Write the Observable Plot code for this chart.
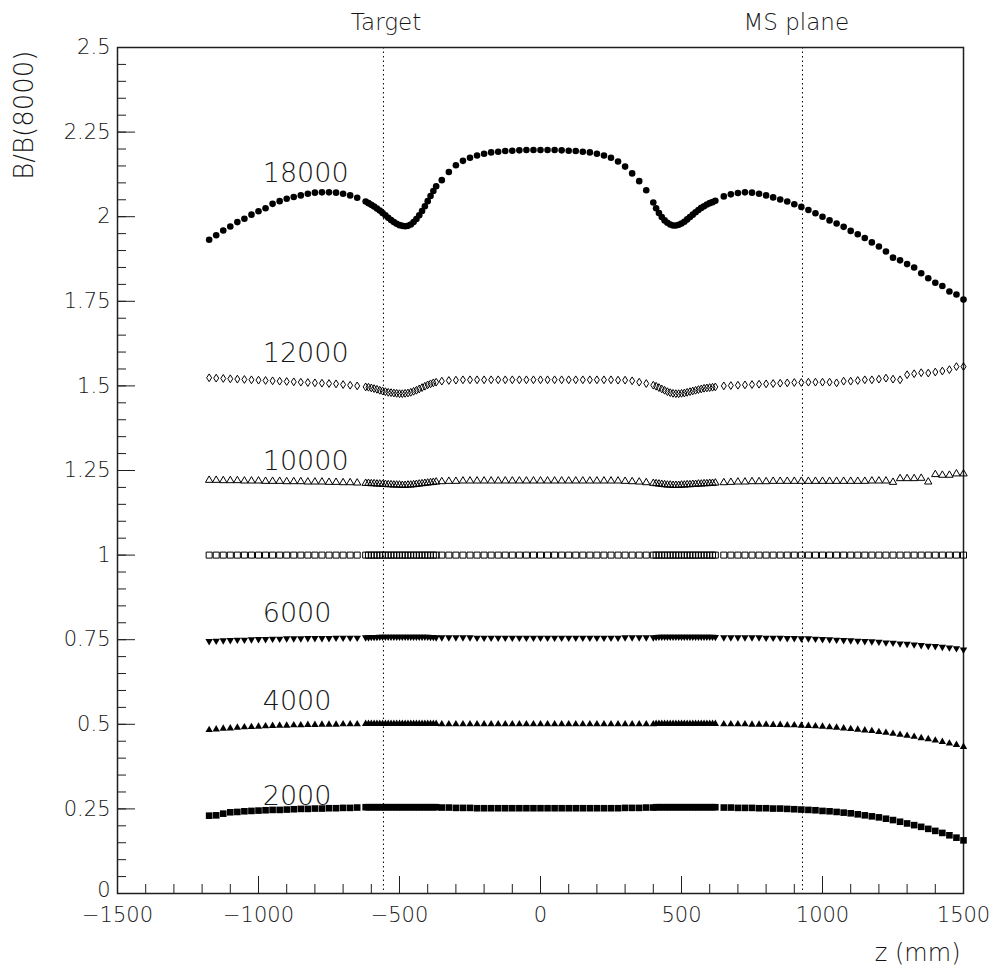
<!DOCTYPE html>
<html><head><meta charset="utf-8">
<script src="https://cdn.jsdelivr.net/npm/d3@7"></script>
<script src="https://cdn.jsdelivr.net/npm/@observablehq/plot@0.6"></script>
<style>
html,body{margin:0;padding:0;background:#fff;}
#chart svg{display:block;}
g[aria-label="tick-labels"] text{letter-spacing:1.5px;}
</style></head><body><div id="chart"></div><script>
// z positions (mm)
const z = [
 -1175,-1150,-1125,-1100,-1075, -1050,-1025,-1000,-975,-950, -925,-900,-875,-850,-825, -800,-775,-750,-725,-700, -675,-650,
 -620,-610,-600,-590,-580, -570,-560,-550,-540,-530, -520,-510,-500,-490,-480, -470,-460,-450,-440,-430, -420,-410,-400,-390,-380, -370,
 -350,-325,-300,-275,-250, -225,-200,-175,-150,-125, -100,-75,-50,-25,0, 25,50,75,100,125, 150,175,200,225,250, 275,300,325,350,375, 400,
 410,420,430,440,450, 460,470,480,490,500, 510,520,530,540,550, 560,570,580,590,600, 610,620,
 650,675,700,725,750, 775,800,825,850,875, 900,925,950,975,1000, 1025,1050,1075,1100,1125, 1150,1175,1200,1225,1250, 1275,1300,1325,1350,1375, 1400,1425,1450,1475,1500
];
const b18000 = [
 1.932,1.945,1.959,1.971,1.984, 1.994,2.006,2.016,2.025,2.038, 2.046,2.053,2.058,2.063,2.068, 2.071,2.072,2.072,2.071,2.068, 2.063,2.056,
 2.045,2.040,2.035,2.030,2.024, 2.018,2.011,2.004,1.997,1.990, 1.984,1.979,1.975,1.973,1.972, 1.973,1.977,1.984,1.993,2.004, 2.017,2.031,2.046,2.061,2.076, 2.090,
 2.108,2.132,2.152,2.165,2.174, 2.181,2.186,2.190,2.192,2.194, 2.195,2.196,2.197,2.197,2.197, 2.197,2.197,2.196,2.195,2.194, 2.192,2.190,2.186,2.181,2.174, 2.163,2.148,2.128,2.105,2.078, 2.042,
 2.025,2.011,1.999,1.989,1.982, 1.977,1.974,1.974,1.976,1.980, 1.985,1.992,1.999,2.006,2.013, 2.020,2.026,2.031,2.036,2.040, 2.043,2.047,
 2.060,2.066,2.070,2.072,2.071, 2.068,2.063,2.057,2.051,2.045, 2.037,2.029,2.020,2.010,2.000, 1.989,1.980,1.970,1.958,1.948, 1.937,1.924,1.912,1.897,1.879, 1.871,1.860,1.850,1.833,1.818, 1.805,1.795,1.779,1.770,1.755
];
const b12000 = [
 1.524,1.523,1.522,1.521,1.520, 1.519,1.518,1.517,1.516,1.515, 1.514,1.513,1.512,1.511,1.510, 1.509,1.508,1.507,1.506,1.504, 1.502,1.500,
 1.497,1.496,1.494,1.492,1.490, 1.487,1.485,1.483,1.481,1.480, 1.479,1.478,1.477,1.477,1.478, 1.479,1.481,1.484,1.487,1.491, 1.495,1.499,1.503,1.506,1.509, 1.511,
 1.514,1.516,1.517,1.518,1.518, 1.518,1.518,1.518,1.518,1.518, 1.518,1.518,1.518,1.518,1.518, 1.518,1.518,1.518,1.518,1.518, 1.518,1.518,1.518,1.518,1.518, 1.517,1.517,1.515,1.511,1.507, 1.502,
 1.499,1.495,1.491,1.487,1.483, 1.480,1.478,1.477,1.477,1.478, 1.479,1.481,1.483,1.485,1.487, 1.489,1.491,1.493,1.494,1.495, 1.496,1.497,
 1.500,1.501,1.502,1.503,1.504, 1.505,1.506,1.507,1.508,1.509, 1.510,1.510,1.511,1.511,1.511, 1.511,1.509,1.514,1.514,1.516, 1.518,1.518,1.520,1.523,1.520, 1.518,1.533,1.536,1.539,1.538, 1.541,1.544,1.548,1.557,1.557
];
const b10000 = [
 1.223,1.223,1.222,1.222,1.222, 1.221,1.221,1.221,1.220,1.220, 1.220,1.219,1.219,1.219,1.218, 1.218,1.218,1.217,1.217,1.216, 1.216,1.215,
 1.214,1.214,1.213,1.213,1.212, 1.212,1.211,1.211,1.210,1.210, 1.209,1.209,1.209,1.208,1.208, 1.209,1.209,1.210,1.211,1.212, 1.213,1.214,1.215,1.216,1.217, 1.218,
 1.219,1.220,1.220,1.221,1.221, 1.221,1.221,1.221,1.221,1.221, 1.221,1.221,1.221,1.221,1.221, 1.221,1.221,1.221,1.221,1.221, 1.221,1.221,1.221,1.221,1.221, 1.221,1.220,1.219,1.218,1.216, 1.214,
 1.213,1.212,1.211,1.210,1.209, 1.209,1.208,1.208,1.208,1.209, 1.209,1.210,1.210,1.211,1.211, 1.212,1.212,1.213,1.213,1.214, 1.214,1.215,
 1.216,1.217,1.218,1.218,1.219, 1.219,1.219,1.220,1.220,1.220, 1.220,1.220,1.220,1.220,1.220, 1.220,1.220,1.220,1.220,1.220, 1.220,1.221,1.221,1.221,1.217, 1.228,1.228,1.228,1.229,1.218, 1.240,1.238,1.238,1.242,1.242
];
const b8000 = [
 1,1,1,1,1, 1,1,1,1,1, 1,1,1,1,1, 1,1,1,1,1, 1,1,
 1,1,1,1,1, 1,1,1,1,1, 1,1,1,1,1, 1,1,1,1,1, 1,1,1,1,1, 1,
 1,1,1,1,1, 1,1,1,1,1, 1,1,1,1,1, 1,1,1,1,1, 1,1,1,1,1, 1,1,1,1,1, 1,
 1,1,1,1,1, 1,1,1,1,1, 1,1,1,1,1, 1,1,1,1,1, 1,1,
 1,1,1,1,1, 1,1,1,1,1, 1,1,1,1,1, 1,1,1,1,1, 1,1,1,1,1, 1,1,1,1,1, 1,1,1,1,1
];
const b6000 = [
 0.744,0.745,0.746,0.747,0.748, 0.748,0.749,0.750,0.750,0.751, 0.751,0.752,0.752,0.752,0.753, 0.753,0.753,0.753,0.754,0.754, 0.754,0.754,
 0.755,0.755,0.756,0.756,0.756, 0.757,0.757,0.757,0.757,0.757, 0.757,0.757,0.757,0.757,0.757, 0.757,0.757,0.757,0.757,0.757, 0.757,0.757,0.757,0.756,0.756, 0.755,
 0.755,0.755,0.755,0.755,0.755, 0.754,0.754,0.754,0.754,0.754, 0.754,0.754,0.754,0.754,0.754, 0.754,0.754,0.754,0.754,0.754, 0.754,0.754,0.754,0.754,0.754, 0.754,0.755,0.755,0.755,0.755, 0.755,
 0.756,0.757,0.757,0.757,0.757, 0.757,0.757,0.757,0.757,0.757, 0.757,0.757,0.757,0.757,0.757, 0.757,0.757,0.757,0.757,0.757, 0.757,0.756,
 0.755,0.755,0.755,0.755,0.755, 0.755,0.754,0.754,0.754,0.753, 0.753,0.752,0.752,0.751,0.750, 0.749,0.748,0.747,0.746,0.745, 0.744,0.743,0.742,0.740,0.739, 0.737,0.736,0.734,0.732,0.730, 0.729,0.727,0.725,0.723,0.719
];
const b4000 = [
 0.485,0.487,0.489,0.490,0.492, 0.493,0.494,0.495,0.496,0.497, 0.498,0.498,0.499,0.499,0.500, 0.500,0.501,0.501,0.501,0.502, 0.502,0.502,
 0.503,0.503,0.503,0.503,0.503, 0.503,0.503,0.503,0.503,0.503, 0.503,0.503,0.503,0.503,0.503, 0.503,0.503,0.503,0.503,0.503, 0.503,0.503,0.503,0.503,0.503, 0.503,
 0.502,0.502,0.502,0.502,0.502, 0.502,0.502,0.502,0.502,0.502, 0.502,0.502,0.502,0.502,0.502, 0.502,0.502,0.502,0.502,0.502, 0.502,0.502,0.502,0.502,0.502, 0.502,0.502,0.502,0.502,0.502, 0.502,
 0.503,0.503,0.503,0.503,0.503, 0.503,0.503,0.503,0.503,0.503, 0.503,0.503,0.503,0.503,0.503, 0.503,0.503,0.503,0.503,0.503, 0.503,0.503,
 0.502,0.502,0.502,0.502,0.501, 0.501,0.501,0.500,0.500,0.499, 0.499,0.498,0.497,0.496,0.495, 0.493,0.492,0.490,0.488,0.486, 0.484,0.482,0.479,0.477,0.474, 0.471,0.468,0.465,0.461,0.458, 0.454,0.450,0.445,0.441,0.435
];
const b2000 = [
 0.230,0.231,0.236,0.240,0.241, 0.243,0.244,0.245,0.246,0.247, 0.247,0.248,0.249,0.250,0.250, 0.251,0.251,0.252,0.252,0.253, 0.253,0.254,
 0.255,0.255,0.255,0.255,0.255, 0.255,0.255,0.255,0.255,0.255, 0.255,0.255,0.255,0.255,0.255, 0.255,0.255,0.255,0.255,0.255, 0.255,0.255,0.255,0.255,0.255, 0.255,
 0.254,0.254,0.253,0.253,0.253, 0.252,0.252,0.252,0.252,0.252, 0.252,0.252,0.252,0.252,0.252, 0.252,0.252,0.252,0.252,0.252, 0.252,0.252,0.252,0.252,0.252, 0.252,0.253,0.253,0.253,0.254, 0.254,
 0.255,0.255,0.255,0.255,0.255, 0.255,0.255,0.255,0.255,0.255, 0.255,0.255,0.255,0.255,0.255, 0.255,0.255,0.255,0.255,0.255, 0.255,0.255,
 0.254,0.254,0.253,0.253,0.253, 0.252,0.252,0.251,0.251,0.250, 0.249,0.248,0.247,0.246,0.244, 0.243,0.241,0.239,0.237,0.234, 0.231,0.228,0.225,0.221,0.217, 0.212,0.207,0.202,0.197,0.191, 0.185,0.179,0.172,0.165,0.157
];

// labels
const seriesNames = ["18000","12000","10000","6000","4000","2000"];
const seriesLabelY = [2.128,1.596,1.277,0.827,0.567,0.287];
const seriesLabelZ = -985;
const guideZ = [-557, 929];
const guideNames = ["Target","MS plane"];
const guideLabelZ = [-548, 907];
const xMajor = [-1500,-1000,-500,0,500,1000,1500];
const xLabels = ["\u22121500","\u22121000","\u2212500","0","500","1000","1500"];
const yMajor = [0,0.25,0.5,0.75,1,1.25,1.5,1.75,2,2.25,2.5];
const yLabels = ["0","0.25","0.5","0.75","1","1.25","1.5","1.75","2","2.25","2.5"];
const xMinor = d3.range(-1500, 1501, 100);
const yMinor = d3.range(0, 51).map(i => i * 0.05);

// marker shapes (pixel geometry)
const circleSym = {draw(c){ c.moveTo(3.3,0); c.arc(0,0,3.3,0,2*Math.PI); }};
const diamondSym = {draw(c){ c.moveTo(0,-3.9); c.lineTo(2.5,0); c.lineTo(0,3.9); c.lineTo(-2.5,0); c.closePath(); }};
const triUpSym = {draw(c){ c.moveTo(0,-3.7); c.lineTo(3.7,2.7); c.lineTo(-3.7,2.7); c.closePath(); }};
const triDownSym = {draw(c){ c.moveTo(0,3.7); c.lineTo(3.7,-2.7); c.lineTo(-3.7,-2.7); c.closePath(); }};
const squareSym = {draw(c){ c.rect(-3,-3,6,6); }};
const squareFSym = {draw(c){ c.rect(-3.3,-3.3,6.6,6.6); }};

const all = [b18000,b12000,b10000,b8000,b6000,b4000,b2000];
const problems = [];
all.forEach((a,k)=>{ if (a.length !== z.length) problems.push("series " + k + ": " + a.length + " vs " + z.length); });
const rows = a => z.map((zz,i)=>({z: zz, v: a[i]})).filter(d => d.v !== undefined);

const spec = [
  {vals: b18000, sym: circleSym, fill: "#000", stroke: "none"},
  {vals: b12000, sym: diamondSym, fill: "none", stroke: "#000"},
  {vals: b10000, sym: triUpSym, fill: "none", stroke: "#000"},
  {vals: b8000, sym: squareSym, fill: "none", stroke: "#000"},
  {vals: b6000, sym: triDownSym, fill: "#000", stroke: "none"},
  {vals: b4000, sym: triUpSym, fill: "#000", stroke: "none"},
  {vals: b2000, sym: squareFSym, fill: "#000", stroke: "none"}
];

const W = 1000, H = 971, mL = 117, mR = 37, mT = 47, mB = 78;
const innerW = W - mL - mR, innerH = H - mT - mB;
const axisInk = "#1e1e1e", textInk = "#161616";
const font = "DejaVu Sans, sans-serif";
const tickFont = 21;

const yIdx = yMajor.map((d, i) => i);
const plot = Plot.plot({
  width: W, height: H,
  marginLeft: mL, marginRight: mR, marginTop: mT, marginBottom: mB,
  x: {domain: [-1500, 1500], axis: null},
  y: {domain: [0, 2.5], axis: null},
  style: {fontFamily: font, background: "#fff", color: textInk, overflow: "visible"},
  marks: [
    Plot.ruleX(guideZ, {x: d => d, stroke: "#000", strokeWidth: 1, strokeDasharray: "1.5,3"}),
    Plot.tickX(xMinor, {x: d => d, insetTop: innerH - 9, stroke: axisInk, strokeWidth: 1}),
    Plot.tickX(xMajor, {x: d => d, insetTop: innerH - 17, stroke: axisInk, strokeWidth: 1}),
    Plot.tickY(yMinor, {y: d => d, insetRight: innerW - 9, stroke: axisInk, strokeWidth: 1}),
    Plot.tickY(yMajor, {y: d => d, insetRight: innerW - 18, stroke: axisInk, strokeWidth: 1}),
    Plot.frame({stroke: axisInk, strokeWidth: 1.5}),
    ...spec.map(s => Plot.dot(rows(s.vals), {x: "z", y: "v", symbol: s.sym, r: 3, fill: s.fill, stroke: s.stroke, strokeWidth: 1})),
    Plot.text(xMajor, {x: d => d, text: (d, i) => xLabels[i], frameAnchor: "bottom", dy: 22, lineAnchor: "middle", fontSize: tickFont, fontWeight: 200, fill: textInk, ariaLabel: "tick-labels"}),
    Plot.text(yIdx.filter(i => i > 0), {y: i => yMajor[i], text: i => yLabels[i], frameAnchor: "left", dx: -7, textAnchor: "end", lineAnchor: "middle", fontSize: tickFont, fontWeight: 200, fill: textInk, ariaLabel: "tick-labels"}),
    Plot.text(yIdx.filter(i => i === 0), {y: i => yMajor[i], text: i => yLabels[i], frameAnchor: "left", dx: -7, dy: -3, textAnchor: "end", lineAnchor: "middle", fontSize: tickFont, fontWeight: 200, fill: textInk, ariaLabel: "tick-labels"}),
    Plot.text(seriesLabelY, {x: () => seriesLabelZ, y: d => d, text: (d, i) => seriesNames[i], textAnchor: "start", lineAnchor: "middle", fontSize: 27, fontWeight: 200, fill: textInk}),
    Plot.text(guideLabelZ, {x: d => d, text: (d, i) => guideNames[i], frameAnchor: "top", dy: -25, lineAnchor: "middle", fontSize: 23, fontWeight: 200, fill: textInk}),
    Plot.text(["B/B(8000)"], {text: d => d, frameAnchor: "top-left", dx: -93, dy: 3, rotate: -90, textAnchor: "end", lineAnchor: "middle", fontSize: 26, fontWeight: 200, fill: textInk}),
    Plot.text(["z (mm)"], {text: d => d, frameAnchor: "bottom-right", dx: -3, dy: 60, textAnchor: "end", lineAnchor: "middle", fontSize: 24, fontWeight: 200, fill: textInk})
  ]
});
document.getElementById("chart").appendChild(plot);
if (problems.length) throw new Error("length mismatch: " + problems.join("; "));
</script></body></html>
